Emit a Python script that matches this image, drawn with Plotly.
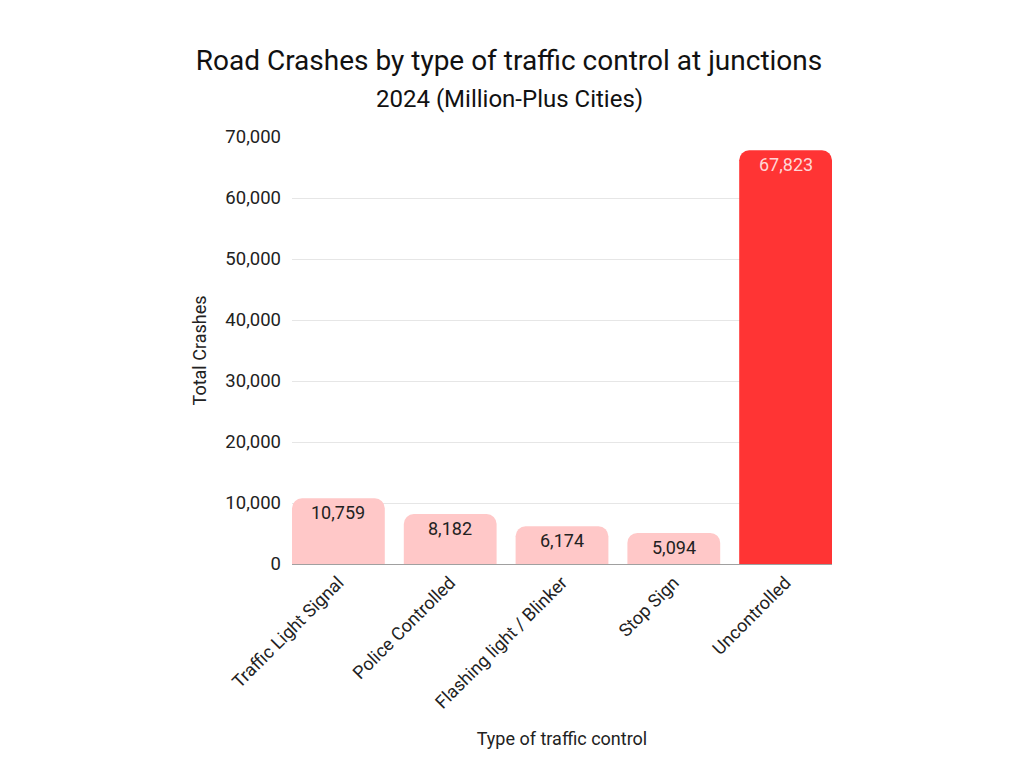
import plotly.graph_objects as go

categories = ["Traffic Light Signal", "Police Controlled", "Flashing light / Blinker", "Stop Sign", "Uncontrolled"]
crashes = [10759, 8182, 6174, 5094, 67823]
y_ticks = [0, 10000, 20000, 30000, 40000, 50000, 60000, 70000]

PINK = "#ffc8c8"
RED = "#ff3434"
BAR_W = 0.83
colors = [RED if c == max(crashes) else PINK for c in crashes]
text_colors = ["#ffd6d6" if c == RED else "#222222" for c in colors]

fig = go.Figure()
fig.add_trace(go.Bar(
    x=categories, y=crashes, width=BAR_W,
    marker=dict(color=colors, line=dict(width=0)),
    hoverinfo="x+y",
))

# value labels sit just under the top of each bar
for cat, val, tc in zip(categories, crashes, text_colors):
    fig.add_annotation(
        x=cat, y=val, text=f"{val:,}", showarrow=False,
        yanchor="top", yshift=-2,
        font=dict(family="Roboto", size=18, color=tc),
    )

fig.update_layout(
    width=1024, height=767,
    paper_bgcolor="white", plot_bgcolor="white",
    font=dict(family="Roboto", color="#222222"),
    margin=dict(l=284, r=200, t=129, b=211),
    barcornerradius=10,
    showlegend=False,
    title=dict(
        text="Road Crashes by type of traffic control at junctions",
        x=501 / 1024, xanchor="center", y=1 - 52 / 767, yanchor="middle",
        font=dict(family="Roboto", size=28, color="#111111"),
    ),
)
fig.add_annotation(
    text="2024 (Million-Plus Cities)", showarrow=False,
    xref="paper", yref="paper", x=(501 - 284) / 540, y=1 + (129 - 91) / 427,
    xanchor="center", yanchor="middle",
    font=dict(family="Roboto", size=24, color="#111111"),
)
fig.update_yaxes(
    range=[0, 70000], tickvals=y_ticks, tickformat=",",
    showgrid=True, gridcolor="#e6e6e6", zeroline=False,
    tickfont=dict(size=18.5, color="#222222"), ticks="", ticklabelstandoff=10,
    automargin=False,
    title=dict(text="Total Crashes", font=dict(size=18), standoff=14),
)
fig.update_xaxes(
    range=[-BAR_W / 2, len(categories) - 1 + BAR_W / 2],
    tickangle=-45, tickfont=dict(size=18, color="#222222"),
    showline=True, linecolor="#a0a0a0", linewidth=1,
    automargin=False,
    title=dict(text="Type of traffic control", font=dict(size=18), standoff=20),
)

fig.write_html("out.html")
